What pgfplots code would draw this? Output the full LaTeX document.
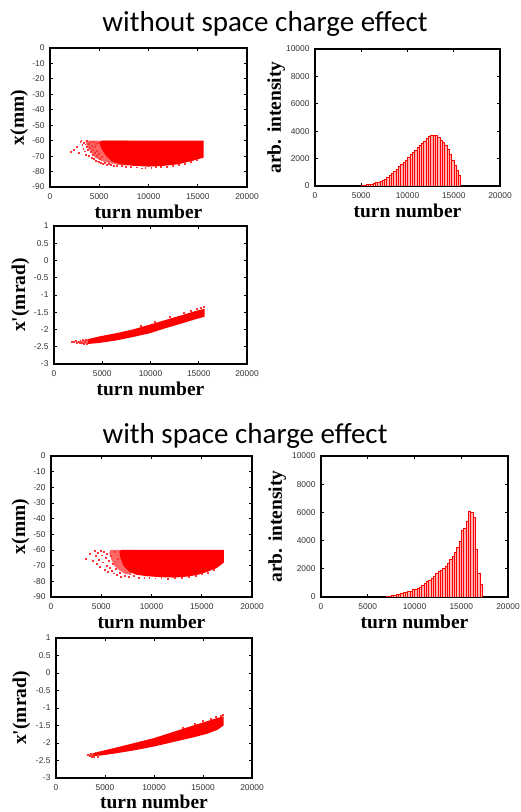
\documentclass[border=0pt]{standalone}
\usepackage{fontspec}
\usepackage{pgfplots}
\pgfplotsset{compat=1.18}
\newfontfamily\titlefont{Carlito}
\newfontfamily\seriffam{Liberation Serif}
\newfontfamily\tickfamily{Liberation Sans}
\newcommand\labelfont{\seriffam\bfseries\fontsize{19.5}{22}\selectfont}
\newcommand\tickfont{\tickfamily\fontsize{8.4}{10}\selectfont}

\pgfplotsset{
  panel/.style={
    scale only axis, anchor=south west,
    xmin=0, xmax=20000, xtick={0,5000,10000,15000,20000},
    tick align=inside, major tick length=3pt,
    axis line style={line width=1.2pt},
    every tick/.style={black, line width=0.8pt},
    tick label style={font=\tickfont, text=black!80},
    xticklabel style={yshift=-3pt}, yticklabel style={xshift=-2pt},
    scaled ticks=false,
    /pgf/number format/set thousands separator={},
    /pgf/number format/assume math mode=true,
    label style={font=\labelfont},
    xlabel={turn number},
    xlabel style={at={(axis description cs:0.5,0)}, anchor=base, yshift=-32pt},
  },
  xpanel/.style={panel, ymin=-90, ymax=0, ytick={-90,-80,-70,-60,-50,-40,-30,-20,-10,0}, ylabel={x(mm)}},
  ppanel/.style={panel, ymin=-3, ymax=1, ytick={-3,-2.5,-2,-1.5,-1,-0.5,0,0.5,1}, ylabel={x'(mrad)}},
  hpanel/.style={panel, ymin=0, ymax=10000, ytick={0,2000,4000,6000,8000,10000}, ylabel={arb. intensity}},
  dots/.style={red!80, only marks, mark=square*, mark size=0.45pt, mark options={draw=red!80, fill=red!80, line width=0pt}},
  bars/.style={ybar interval, draw=red, fill=red!30, line width=0.5pt},
}

\begin{document}
\begin{tikzpicture}
\path[use as bounding box] (0pt,0pt) rectangle (521pt,812pt);
\node[font=\titlefont\fontsize{29}{32}\selectfont, anchor=base] at (265pt,780pt) {without space charge effect};
\node[font=\titlefont\fontsize{29}{32}\selectfont, anchor=base] at (245pt,368pt) {with space charge effect};

% without space charge: x
\begin{axis}[xpanel, at={(50pt,625pt)}, width=197pt, height=139pt,
  ylabel style={at={(axis description cs:-0.132,0.5)}, anchor=base}]
\addplot[fill=red!60, draw=none] coordinates {(3600,-60) (8000,-60) (8000,-76) (7000,-75.8) (6000,-74.5) (5200,-73) (4600,-71) (4100,-67) (3700,-63)} -- cycle;
\addplot[fill=red, draw=none] coordinates {(5300,-60) (15600,-60) (15600,-71) (14500,-73) (13000,-75.3) (11500,-76.3) (10000,-76.8) (8500,-76.3) (7200,-75.3) (6300,-73.5) (5700,-70) (5200,-65) (5000,-61)} -- cycle;
\addplot[dots] coordinates {
(2150,-67.5) (2400,-66) (2700,-64) (2900,-68) (3100,-61) (3200,-60.5) (3300,-63) (3400,-65.5) (3450,-61.5) (3550,-67)
(3600,-62.5) (3700,-69) (3750,-64) (3800,-60.5) (3850,-66) (3950,-62) (4000,-70) (4050,-64.5) (4150,-67.5) (4200,-61)
(4250,-71) (4300,-63.5) (4350,-69) (4400,-66) (4450,-72) (4500,-60.8) (4550,-68) (4600,-64) (4700,-73) (4700,-62)
(4750,-70) (4800,-66.5) (4850,-73.5) (4900,-61.5) (4950,-68.5) (5000,-74) (5100,-72) (5200,-74.5) (5300,-70.5) (5400,-75)
(5600,-74.2) (5800,-75.5) (6000,-75) (6200,-76) (6500,-76.2) (6800,-76.5) (7300,-76.6) (7700,-77) (8200,-77.2) (8800,-77.4)
(9300,-78) (9700,-77.6) (10300,-77.5) (10800,-77.3) (11300,-77) (11900,-76.8) (12500,-76.2) (13100,-75.8) (13700,-75) (14300,-74) (14900,-72.8)};
\end{axis}

% without space charge: histogram
\begin{axis}[hpanel, at={(315pt,626pt)}, width=185pt, height=137pt,
  ylabel style={at={(axis description cs:-0.184,0.5)}, anchor=base}]
\addplot[bars] coordinates {
(5000,50) (5250,80) (5500,110) (5750,140) (6000,160) (6250,200) (6500,240) (6750,300) (7000,370) (7250,440)
(7500,520) (7750,650) (8000,800) (8250,950) (8500,1040) (8750,1200) (9000,1450) (9250,1620) (9500,1740) (9750,1900)
(10000,2100) (10250,2300) (10500,2470) (10750,2620) (11000,2800) (11250,2980) (11500,3150) (11750,3300) (12000,3480) (12250,3620)
(12500,3700) (12750,3720) (13000,3690) (13250,3560) (13500,3350) (13750,3180) (14000,3000) (14250,2700) (14500,2350) (14750,1900)
(15000,1500) (15250,1170) (15500,800) (15750,0)};
\end{axis}

% without space charge: x'
\begin{axis}[ppanel, at={(54pt,448pt)}, width=193pt, height=138pt,
  ylabel style={at={(axis description cs:-0.150,0.5)}, anchor=base}]
\addplot[fill=red!60, draw=none] coordinates {(2300,-2.36) (3500,-2.28) (3500,-2.42)} -- cycle;
\addplot[fill=red, draw=none] coordinates {
(3500,-2.28) (4700,-2.2) (6400,-2.11) (8150,-2.0) (9900,-1.86) (11600,-1.72) (13300,-1.58) (14700,-1.46) (15600,-1.40)
(15600,-1.63) (14700,-1.70) (13300,-1.82) (11600,-1.96) (9900,-2.11) (8150,-2.22) (6400,-2.32) (4700,-2.39) (3500,-2.42)} -- cycle;
\addplot[dots] coordinates {
(1900,-2.36) (2100,-2.37) (2250,-2.34) (2400,-2.38) (2550,-2.35) (2650,-2.40) (2750,-2.33) (2900,-2.38) (3000,-2.31) (3100,-2.42)
(3200,-2.35) (3300,-2.30) (3400,-2.43) (13500,-1.52) (14200,-1.47) (14800,-1.41) (15200,-1.38) (15500,-1.35) (12000,-1.64) (10500,-1.77) (9000,-1.9)};
\end{axis}

% with space charge: x
\begin{axis}[xpanel, at={(51pt,215pt)}, width=201pt, height=141pt,
  ylabel style={at={(axis description cs:-0.129,0.5)}, anchor=base}]
\addplot[fill=red!60, draw=none] coordinates {(5900,-60) (8000,-60) (8000,-76) (7300,-75) (6800,-73) (6300,-70) (6000,-66) (5800,-62)} -- cycle;
\addplot[fill=red, draw=none] coordinates {(7000,-60) (17200,-60) (17200,-68) (16500,-71.5) (15500,-74) (14500,-76) (13500,-77) (12200,-77.6) (10800,-77.3) (9500,-76.7) (8500,-75.8) (7800,-74) (7200,-70) (6900,-65) (6800,-61)} -- cycle;
\addplot[dots] coordinates {
(3500,-65.5) (3900,-62.5) (4200,-67) (4400,-60.8) (4500,-64) (4600,-69) (4700,-62) (4800,-66.5) (4900,-71) (5000,-60.5)
(5100,-63.5) (5200,-68) (5300,-61.5) (5400,-72.5) (5450,-65) (5550,-70) (5600,-62.5) (5700,-74) (5800,-67) (5900,-71.5)
(6000,-64) (6100,-73.5) (6200,-69) (6300,-75) (6400,-61.2) (6500,-72) (6600,-76) (6700,-66) (6900,-74.5) (7000,-77)
(7400,-76.6) (7800,-77.2) (8300,-76.8) (8800,-77.6) (9300,-77.8) (9800,-78) (10400,-78.2) (11000,-78) (11600,-78.3) (12300,-78.1)
(13000,-77.8) (13700,-77.4) (14400,-76.6) (15000,-75.4) (15600,-74.4) (16200,-72.6)};
\end{axis}

% with space charge: histogram
\begin{axis}[hpanel, at={(321pt,215pt)}, width=187pt, height=141pt,
  ylabel style={at={(axis description cs:-0.209,0.5)}, anchor=base}]
\addplot[bars] coordinates {
(7000,40) (7250,70) (7500,100) (7750,140) (8000,170) (8250,230) (8500,260) (8750,330) (9000,360) (9250,380)
(9500,400) (9750,520) (10000,560) (10250,620) (10500,700) (10750,830) (11000,980) (11250,1100) (11500,1220) (11750,1350)
(12000,1500) (12250,1650) (12500,1800) (12750,1930) (13000,2050) (13250,2200) (13500,2420) (13750,2650) (14000,2900) (14250,3150)
(14500,3550) (14750,3950) (15000,4700) (15250,4900) (15500,5400) (15750,6100) (16000,6000) (16250,5650) (16500,3400) (16750,1650)
(17000,900) (17250,0)};
\end{axis}

% with space charge: x'
\begin{axis}[ppanel, at={(56pt,34pt)}, width=196pt, height=140pt,
  xlabel style={yshift=2pt},
  ylabel style={at={(axis description cs:-0.153,0.5)}, anchor=base}]
\addplot[fill=red!60, draw=none] coordinates {(3000,-2.35) (3800,-2.29) (3800,-2.37)} -- cycle;
\addplot[fill=red, draw=none] coordinates {
(3800,-2.29) (4500,-2.24) (6000,-2.14) (8000,-2.0) (10000,-1.86) (12000,-1.68) (14000,-1.5) (15500,-1.37) (16500,-1.28) (17100,-1.24)
(17100,-1.50) (16500,-1.62) (15500,-1.73) (14000,-1.84) (12000,-1.97) (10000,-2.1) (8000,-2.21) (6000,-2.3) (4500,-2.36) (3800,-2.37)} -- cycle;
\addplot[dots] coordinates {
(3300,-2.34) (3450,-2.37) (3550,-2.31) (3650,-2.39) (3750,-2.33) (3900,-2.40) (4100,-2.27) (4300,-2.39)
(16800,-1.22) (17000,-1.19) (16300,-1.25) (15800,-1.31) (15000,-1.38) (14200,-1.45) (13000,-1.56)};
\end{axis}
\end{tikzpicture}
\end{document}
